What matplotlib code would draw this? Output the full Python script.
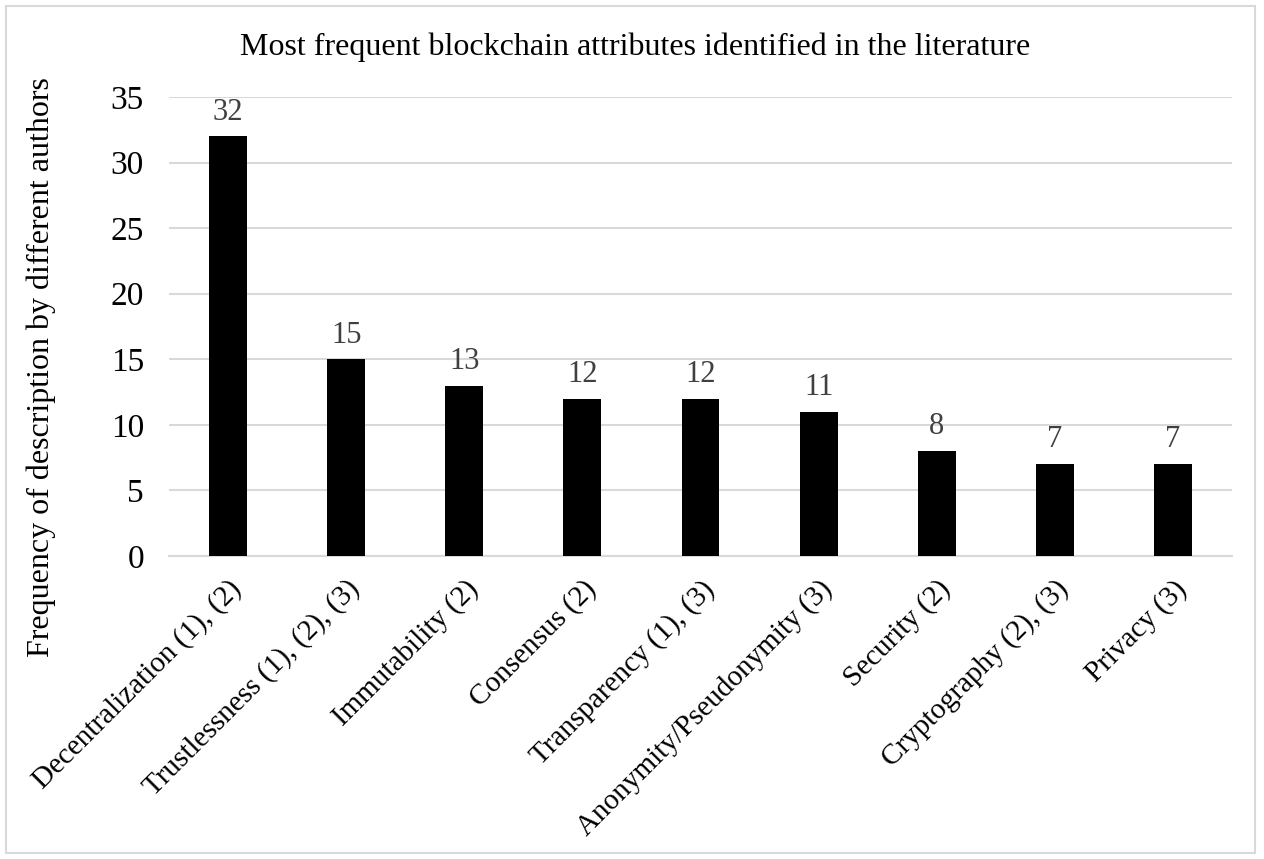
import matplotlib.pyplot as plt
from matplotlib.patches import Rectangle

plt.rcParams['font.family'] = ['Liberation Serif', 'DejaVu Serif']

categories = ['Decentralization (1), (2)', 'Trustlessness (1), (2), (3)', 'Immutability (2)',
              'Consensus (2)', 'Transparency (1), (3)', 'Anonymity/Pseudonymity (3)',
              'Security (2)', 'Cryptography (2), (3)', 'Privacy (3)']
values = [32, 15, 13, 12, 12, 11, 8, 7, 7]

W, H = 1264, 859
fig = plt.figure(figsize=(W / 100, H / 100), dpi=100)
ax = fig.add_axes([169 / W, 1 - 556 / H, (1232 - 169) / W, (556 - 97) / H])

x = range(len(categories))
ax.bar(x, values, width=0.32, color='black', zorder=3)
for xi, v in zip(x, values):
    ax.annotate(str(v), (xi, v), xytext=(0, 7), textcoords='offset points',
                ha='center', va='bottom', fontsize=22, color='#404040')

ax.set_xlim(-0.5, len(categories) - 0.5)
ax.set_ylim(0, 35)
ax.set_yticks(range(0, 36, 5))
ax.yaxis.grid(True, color='#d9d9d9', linewidth=1.5, zorder=0)
ax.set_xticks(list(x))
ax.set_xticklabels(categories, rotation=45, ha='right', rotation_mode='anchor', fontsize=21)
ax.tick_params(axis='y', length=0, labelsize=24, pad=18)
ax.tick_params(axis='x', length=0, pad=14)
for s in ['top', 'right', 'left']:
    ax.spines[s].set_visible(False)
ax.spines['bottom'].set_color('#d9d9d9')
ax.spines['bottom'].set_linewidth(1.5)

fig.text(41 / W, 1 - 367 / H, 'Frequency of description by different authors',
         rotation=90, ha='center', va='center', fontsize=23)
fig.text(635 / W, 1 - 47 / H, 'Most frequent blockchain attributes identified in the literature',
         ha='center', va='center', fontsize=23)
fig.patches.append(Rectangle((6 / W, 6 / H), (1255 - 6) / W, (853 - 6) / H,
                             transform=fig.transFigure, fill=False,
                             edgecolor='#d9d9d9', linewidth=1.5))

fig.savefig('out.png', dpi=100)
